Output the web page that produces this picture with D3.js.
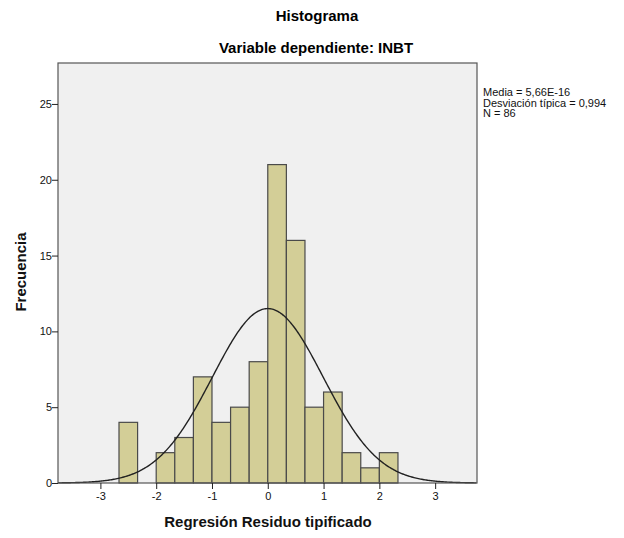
<!DOCTYPE html>
<html>
<head>
<meta charset="utf-8">
<script src="https://cdn.jsdelivr.net/npm/d3@7"></script>
<style>
  body { margin: 0; background: #fff; }
  svg { display: block; font-family: Arial, "Liberation Sans", sans-serif; }
</style>
</head>
<body>
<div id="chart"></div>
<script>
// bin edges (residual units) and counts
const binStarts = [-8/3, -7/3, -2, -5/3, -4/3, -1, -2/3, -1/3, 0, 1/3, 2/3, 1, 4/3, 5/3, 2];
const binCounts = [4, 0, 2, 3, 7, 4, 5, 8, 21, 16, 5, 6, 2, 1, 2];
const binWidth = 1/3;
const xTicks = [-3, -2, -1, 0, 1, 2, 3];
const yTicks = [0, 5, 10, 15, 20, 25];
const statMean = 5.66e-16, statSd = 0.994, statN = 86;
const legendLines = ["Media = 5,66E-16", "Desviación típica = 0,994", "N = 86"];

const width = 624, height = 538;
const margins = {top: 63, right: 147, bottom: 55, left: 58};

const svg = d3.select("#chart")
  .append("svg")
    .attr("width", width)
    .attr("height", height);

const xScale = d3.scaleLinear()
  .domain([-3.76, 3.75])
  .range([margins.left, width - margins.right]);

const yScale = d3.scaleLinear()
  .domain([0, 27.7])
  .range([height - margins.bottom, margins.top]);

/* plot background */
svg.append("rect")
  .attr("x", margins.left)
  .attr("y", margins.top)
  .attr("width", width - margins.right - margins.left)
  .attr("height", height - margins.bottom - margins.top)
  .style("fill", "#f0f0f0");

/* bars */
const bars = binStarts.map((s, i) => ({x0: s, x1: s + binWidth, n: binCounts[i]}))
  .filter(d => d.n > 0);

svg.selectAll("rect.bar")
  .data(bars)
  .join("rect")
    .attr("class", "bar")
    .attr("x", d => xScale(d.x0))
    .attr("y", d => yScale(d.n))
    .attr("width", d => xScale(d.x1) - xScale(d.x0))
    .attr("height", d => yScale(0) - yScale(d.n))
    .style("fill", "#d3ce97")
    .style("stroke", "#4a4a4a")
    .style("stroke-width", 1.2);

/* normal curve from the stats */
const dens = x => statN * binWidth / (statSd * Math.sqrt(2 * Math.PI)) *
  Math.exp(-0.5 * Math.pow((x - statMean) / statSd, 2));
const curvePts = d3.range(-3.76, 3.751, 0.02);
const line = d3.line()
  .x(d => xScale(d))
  .y(d => yScale(dens(d)));

svg.append("path")
  .attr("d", line(curvePts))
  .style("fill", "none")
  .style("stroke", "#222")
  .style("stroke-width", 1.4);

/* frame */
svg.append("rect")
  .attr("x", margins.left)
  .attr("y", margins.top)
  .attr("width", width - margins.right - margins.left)
  .attr("height", height - margins.bottom - margins.top)
  .style("fill", "none")
  .style("stroke", "#555")
  .style("stroke-width", 1.2);

/* axes */
const xAxis = d3.axisBottom(xScale).tickValues(xTicks)
  .tickFormat(d => String(d)).tickSize(6).tickSizeOuter(0);
const xGroup = svg.append("g")
  .attr("transform", `translate(0,${height - margins.bottom})`)
  .call(xAxis);
xGroup.select(".domain").remove();
xGroup.selectAll("line").style("stroke", "#222");
xGroup.selectAll("text")
  .attr("y", 9)
  .style("font-size", "11px")
  .style("font-family", "Arial, 'Liberation Sans', sans-serif")
  .style("fill", "#111");

const yAxis = d3.axisLeft(yScale).tickValues(yTicks)
  .tickFormat(d => String(d)).tickSize(6).tickSizeOuter(0);
const yGroup = svg.append("g")
  .attr("transform", `translate(${margins.left},0)`)
  .call(yAxis);
yGroup.select(".domain").remove();
yGroup.selectAll("line").style("stroke", "#222");
yGroup.selectAll("text")
  .attr("x", -6)
  .style("font-size", "11px")
  .style("font-family", "Arial, 'Liberation Sans', sans-serif")
  .style("fill", "#111");

/* titles */
svg.append("text")
  .attr("x", 317).attr("y", 21)
  .attr("text-anchor", "middle")
  .style("font-size", "15px")
  .style("font-weight", "bold")
  .style("fill", "#000")
  .text("Histograma");

svg.append("text")
  .attr("x", 316).attr("y", 53)
  .attr("text-anchor", "middle")
  .style("font-size", "15px")
  .style("font-weight", "bold")
  .style("fill", "#000")
  .text("Variable dependiente: INBT");

svg.append("text")
  .attr("x", 268).attr("y", 527)
  .attr("text-anchor", "middle")
  .style("font-size", "15px")
  .style("font-weight", "bold")
  .style("fill", "#111")
  .text("Regresión Residuo tipificado");

svg.append("text")
  .attr("transform", "translate(26,272) rotate(-90)")
  .attr("text-anchor", "middle")
  .style("font-size", "15px")
  .style("font-weight", "bold")
  .style("fill", "#111")
  .text("Frecuencia");

/* legend text */
svg.selectAll("text.legend")
  .data(legendLines)
  .join("text")
    .attr("class", "legend")
    .attr("x", 483)
    .attr("y", (d, i) => 96 + i * 10.5)
    .style("font-size", "11px")
    .style("fill", "#111")
    .text(d => d);
</script>
</body>
</html>
